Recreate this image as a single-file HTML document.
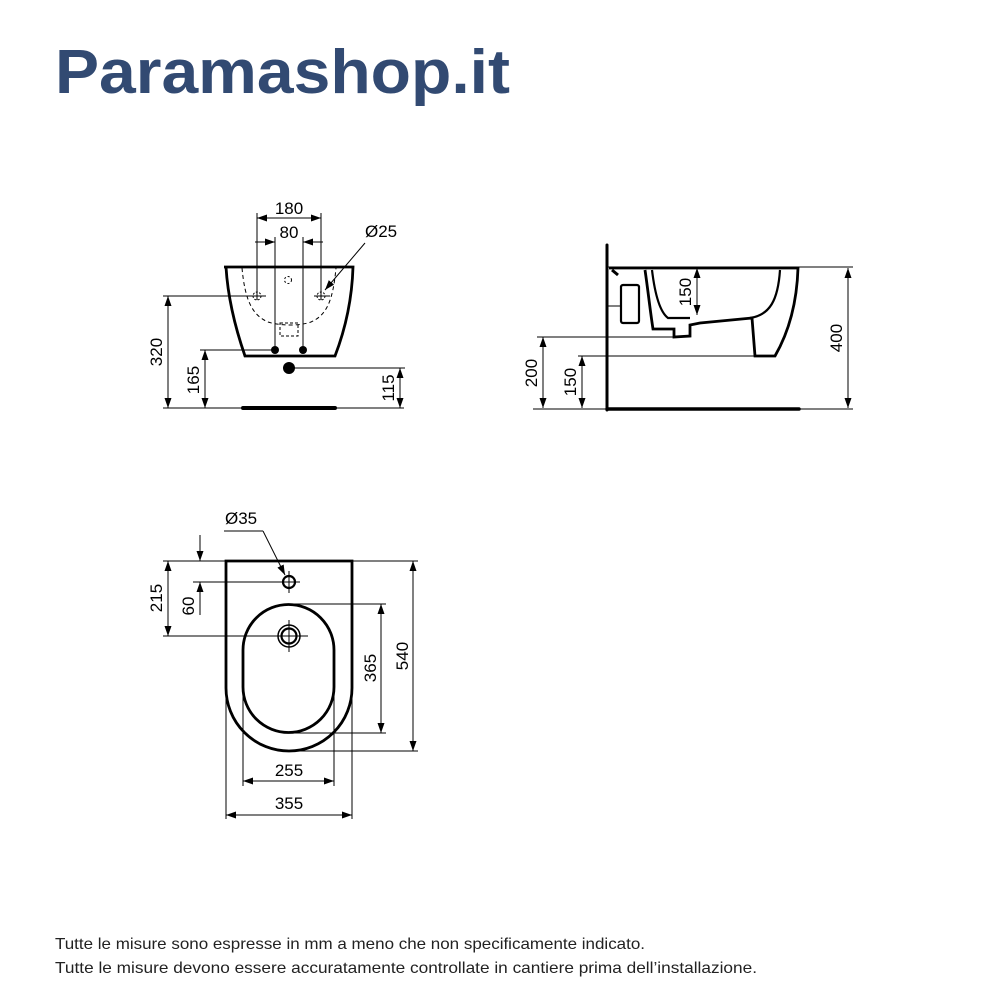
<!DOCTYPE html>
<html><head><meta charset="utf-8"><style>
html,body{margin:0;padding:0;background:#fff;}
svg{display:block;}
</style></head><body>
<svg width="1000" height="1000" viewBox="0 0 1000 1000" xmlns="http://www.w3.org/2000/svg" font-family="Liberation Sans, Arial, sans-serif">
<defs>
<marker id="a" viewBox="0 0 10 10" refX="10" refY="5" markerWidth="10" markerHeight="10" markerUnits="userSpaceOnUse" orient="auto-start-reverse"><path d="M0,1.5 L10,5 L0,8.5 z" fill="#000"/></marker>
</defs>
<text x="55" y="93" font-size="62" font-weight="bold" fill="#324a72" textLength="455" lengthAdjust="spacingAndGlyphs">Paramashop.it</text>

<g stroke="#000" fill="none" stroke-width="1">
<!-- FRONT VIEW -->
<path d="M224,267 H353 C352,300 345,330 335,356 H245 C236,330 228,300 226,267" stroke-width="2.8"/>
<path d="M242,268 C245,300 252,315 268,322 C280,326 300,326 311,322 C327,315 333,300 336,268" stroke-dasharray="4,3"/>
<rect x="280" y="323" width="18" height="13" stroke-dasharray="3,2"/>
<circle cx="288" cy="280" r="3.5" stroke-dasharray="2,2"/>
<circle cx="257" cy="296" r="4" stroke-dasharray="2,1.5"/>
<circle cx="321" cy="296" r="4" stroke-dasharray="2,1.5"/>
<line x1="250" y1="296" x2="266" y2="296"/><line x1="314" y1="296" x2="330" y2="296"/>
<line x1="257" y1="213" x2="257" y2="300"/><line x1="321" y1="213" x2="321" y2="300"/>
<line x1="275" y1="237" x2="275" y2="350"/><line x1="303" y1="237" x2="303" y2="350"/>
<line x1="257" y1="218" x2="321" y2="218" marker-start="url(#a)" marker-end="url(#a)"/>
<line x1="255" y1="242" x2="275" y2="242" marker-end="url(#a)"/>
<line x1="323" y1="242" x2="303" y2="242" marker-end="url(#a)"/>
<line x1="365" y1="243" x2="325" y2="290" marker-end="url(#a)"/>
<line x1="163" y1="296" x2="265" y2="296"/>
<line x1="168" y1="296" x2="168" y2="408" marker-start="url(#a)" marker-end="url(#a)"/>
<line x1="200" y1="350" x2="275" y2="350"/>
<line x1="205" y1="350" x2="205" y2="408" marker-start="url(#a)" marker-end="url(#a)"/>
<line x1="289" y1="368" x2="405" y2="368"/>
<line x1="400" y1="368" x2="400" y2="408" marker-start="url(#a)" marker-end="url(#a)"/>
<line x1="163" y1="408" x2="404" y2="408"/>
<line x1="243" y1="408" x2="335" y2="408" stroke-width="4" stroke-linecap="round"/>

<!-- SIDE VIEW -->
<line x1="607" y1="245" x2="607" y2="410" stroke-width="3" stroke-linecap="round"/>
<line x1="607" y1="409" x2="799" y2="409" stroke-width="3.5" stroke-linecap="round"/>
<line x1="607" y1="267" x2="853" y2="267"/>
<path d="M609,268 H798 C797,300 790,330 775,356 H755 L752,318 C730,320 710,322 700,323 L690,325 L690,336 L674,337 L674,329 L653,329 C650,310 648,290 645,270" stroke-width="2.8"/>
<path d="M652,270 C655,295 660,312 668,318 L690,318" stroke-width="2.2"/>
<path d="M780,270 C778,300 770,315 750,318" stroke-width="2.2"/>
<rect x="621" y="285" width="18" height="38" rx="2" stroke-width="2.2"/>
<line x1="607" y1="306" x2="621" y2="306"/>
<line x1="612" y1="270" x2="618" y2="275" stroke-width="3"/>
<line x1="537" y1="337" x2="690" y2="337"/>
<line x1="543" y1="337" x2="543" y2="408" marker-start="url(#a)" marker-end="url(#a)"/>
<line x1="578" y1="356" x2="775" y2="356"/>
<line x1="582" y1="356" x2="582" y2="408" marker-start="url(#a)" marker-end="url(#a)"/>
<line x1="533" y1="409" x2="607" y2="409"/>
<line x1="697" y1="268" x2="697" y2="315" marker-start="url(#a)" marker-end="url(#a)"/>
<line x1="848" y1="268" x2="848" y2="408" marker-start="url(#a)" marker-end="url(#a)"/>
<line x1="800" y1="409" x2="853" y2="409"/>

<!-- TOP VIEW -->
<path d="M226,561 H352 V688 A63,63 0 0 1 226,688 Z" stroke-width="2.8"/>
<path d="M243,650 A45.5,45.5 0 0 1 334,650 V687 A45.5,45.5 0 0 1 243,687 Z" stroke-width="2.8"/>
<circle cx="289" cy="582" r="6" stroke-width="2.2"/>
<line x1="289" y1="571" x2="289" y2="593"/><line x1="278" y1="582" x2="300" y2="582"/>
<circle cx="289" cy="636" r="11" stroke-width="1.5"/>
<circle cx="289" cy="636" r="7.5" stroke-width="2.2"/>
<line x1="289" y1="620" x2="289" y2="652"/><line x1="272" y1="636" x2="308" y2="636"/>
<line x1="224" y1="531" x2="263" y2="531"/>
<line x1="263" y1="531" x2="285" y2="575" marker-end="url(#a)"/>
<line x1="163" y1="561" x2="226" y2="561"/>
<line x1="352" y1="561" x2="418" y2="561"/>
<line x1="168" y1="561" x2="168" y2="636" marker-start="url(#a)" marker-end="url(#a)"/>
<line x1="163" y1="636" x2="308" y2="636"/>
<line x1="193" y1="582" x2="289" y2="582"/>
<line x1="200" y1="535" x2="200" y2="561" marker-end="url(#a)"/>
<line x1="200" y1="615" x2="200" y2="582" marker-end="url(#a)"/>
<line x1="289" y1="604" x2="386" y2="604"/>
<line x1="289" y1="733" x2="386" y2="733"/>
<line x1="381" y1="604" x2="381" y2="733" marker-start="url(#a)" marker-end="url(#a)"/>
<line x1="289" y1="751" x2="418" y2="751"/>
<line x1="413" y1="561" x2="413" y2="751" marker-start="url(#a)" marker-end="url(#a)"/>
<line x1="243" y1="690" x2="243" y2="786"/><line x1="334" y1="690" x2="334" y2="786"/>
<line x1="243" y1="781" x2="334" y2="781" marker-start="url(#a)" marker-end="url(#a)"/>
<line x1="226" y1="688" x2="226" y2="819"/><line x1="352" y1="688" x2="352" y2="819"/>
<line x1="226" y1="815" x2="352" y2="815" marker-start="url(#a)" marker-end="url(#a)"/>
</g>
<g fill="#000">
<circle cx="275" cy="350" r="4"/><circle cx="303" cy="350" r="4"/>
<circle cx="289" cy="368" r="6"/>
</g>

<g font-size="17" fill="#000">
<text x="289" y="214" text-anchor="middle">180</text>
<text x="289" y="238" text-anchor="middle">80</text>
<text x="365" y="237">Ø25</text>
<text transform="translate(162,352) rotate(-90)" text-anchor="middle">320</text>
<text transform="translate(199,380) rotate(-90)" text-anchor="middle">165</text>
<text transform="translate(394,388) rotate(-90)" text-anchor="middle">115</text>
<text transform="translate(537,373) rotate(-90)" text-anchor="middle">200</text>
<text transform="translate(576,382) rotate(-90)" text-anchor="middle">150</text>
<text transform="translate(691,292) rotate(-90)" text-anchor="middle">150</text>
<text transform="translate(842,338) rotate(-90)" text-anchor="middle">400</text>
<text x="225" y="524">Ø35</text>
<text transform="translate(162,598) rotate(-90)" text-anchor="middle">215</text>
<text transform="translate(194,606) rotate(-90)" text-anchor="middle">60</text>
<text transform="translate(376,668) rotate(-90)" text-anchor="middle">365</text>
<text transform="translate(408,656) rotate(-90)" text-anchor="middle">540</text>
<text x="289" y="776" text-anchor="middle">255</text>
<text x="289" y="809" text-anchor="middle">355</text>
</g>
<g font-size="16" fill="#222">
<text x="55" y="949" textLength="590" lengthAdjust="spacingAndGlyphs">Tutte le misure sono espresse in mm a meno che non specificamente indicato.</text>
<text x="55" y="973" textLength="702" lengthAdjust="spacingAndGlyphs">Tutte le misure devono essere accuratamente controllate in cantiere prima dell’installazione.</text>
</g>
</svg>
</body></html>
